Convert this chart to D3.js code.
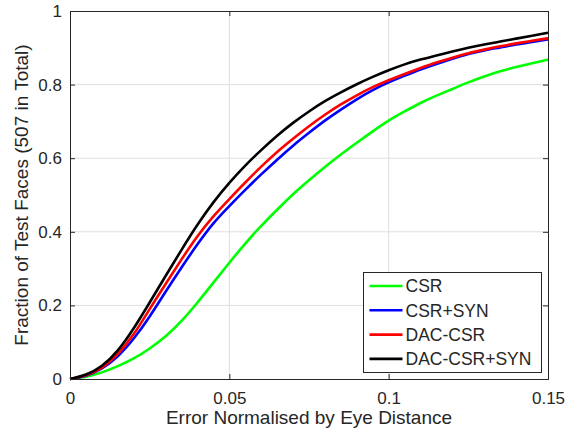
<!DOCTYPE html>
<html>
<head>
<meta charset="utf-8">
<script src="https://cdn.jsdelivr.net/npm/d3@7"></script>
<style>
    body { margin: 0; background: #fff; }
    text { font-family: "Liberation Sans", Arial, Helvetica, sans-serif; fill: #262626; }
</style>
</head>
<body>
<div id="chart"></div>
<script>
// Error thresholds (x axis), one sample every 0.005
const errors = d3.range(31).map(i => +(i * 0.005).toFixed(3));

// Cumulative fraction of faces for each method
const csr = [0, 0.006, 0.018, 0.035, 0.056, 0.083, 0.116, 0.158, 0.208, 0.262,
    0.316, 0.368, 0.416, 0.46, 0.502, 0.54, 0.576, 0.61, 0.642, 0.673,
    0.702, 0.727, 0.75, 0.77, 0.788, 0.806, 0.822, 0.836, 0.848, 0.858, 0.868];
const csrSyn = [0, 0.009, 0.029, 0.062, 0.11, 0.17, 0.237, 0.303, 0.366, 0.423,
    0.47, 0.514, 0.556, 0.596, 0.634, 0.669, 0.702, 0.732, 0.76, 0.785,
    0.806, 0.824, 0.841, 0.856, 0.87, 0.883, 0.893, 0.901, 0.909, 0.916, 0.923];
const dacCsr = [0, 0.01, 0.031, 0.068, 0.122, 0.19, 0.258, 0.325, 0.388, 0.442,
    0.489, 0.534, 0.577, 0.617, 0.653, 0.687, 0.718, 0.746, 0.771, 0.793,
    0.812, 0.829, 0.845, 0.86, 0.873, 0.885, 0.895, 0.904, 0.912, 0.919, 0.926];
const dacCsrSyn = [0, 0.012, 0.036, 0.078, 0.138, 0.208, 0.28, 0.351, 0.419, 0.48,
    0.533, 0.58, 0.622, 0.661, 0.696, 0.727, 0.755, 0.779, 0.801, 0.821,
    0.839, 0.855, 0.868, 0.879, 0.89, 0.9, 0.909, 0.917, 0.925, 0.933, 0.941];

const seriesNames = ["CSR", "CSR+SYN", "DAC-CSR", "DAC-CSR+SYN"];
const seriesColors = ["#00ff00", "#0000ff", "#ff0000", "#000000"];
const seriesValues = [csr, csrSyn, dacCsr, dacCsrSyn];

const xTicks = [0, 0.05, 0.1, 0.15];
const yTicks = [0, 0.2, 0.4, 0.6, 0.8, 1];
const xTickLabels = ["0", "0.05", "0.1", "0.15"];
const yTickLabels = ["0", "0.2", "0.4", "0.6", "0.8", "1"];

const width = 568, height = 433;
const margin = { left: 70, right: 20, top: 11, bottom: 54 };
const innerW = width - margin.left - margin.right;
const innerH = height - margin.top - margin.bottom;
const axisColor = "#262626";

const svg = d3.select("#chart")
    .append("svg")
    .attr("width", width)
    .attr("height", height);

const g = svg.append("g")
    .attr("transform", `translate(${margin.left},${margin.top})`);

const x = d3.scaleLinear().domain([0, 0.15]).range([0, innerW]);
const y = d3.scaleLinear().domain([0, 1]).range([innerH, 0]);

// Grid lines (skip the ones lying on the box)
g.append("g")
    .selectAll("line")
    .data(xTicks.filter(t => t > 0 && t < 0.15))
    .join("line")
    .attr("x1", d => x(d)).attr("x2", d => x(d))
    .attr("y1", 0).attr("y2", innerH)
    .attr("stroke", "#dfdfdf");
g.append("g")
    .selectAll("line")
    .data(yTicks.filter(t => t > 0 && t < 1))
    .join("line")
    .attr("y1", d => y(d)).attr("y2", d => y(d))
    .attr("x1", 0).attr("x2", innerW)
    .attr("stroke", "#dfdfdf");

// Curves, drawn in legend order so black ends on top
const line = d3.line()
    .x((d, i) => x(errors[i]))
    .y(d => y(d))
    .curve(d3.curveNatural);

seriesValues.forEach((vals, i) => {
    g.append("path")
        .datum(vals)
        .attr("fill", "none")
        .attr("stroke", seriesColors[i])
        .attr("stroke-width", 2.6)
        .attr("stroke-linejoin", "round")
        .attr("d", line);
});

// Axes: ticks pointing inward, on all four sides
const tickLen = 5;
g.append("g")
    .attr("transform", `translate(0,${innerH})`)
    .call(d3.axisBottom(x).tickValues(xTicks).tickSize(-tickLen).tickPadding(tickLen + 8)
        .tickFormat((d, i) => xTickLabels[i]));
g.append("g")
    .call(d3.axisLeft(y).tickValues(yTicks).tickSize(-tickLen).tickPadding(tickLen + 3)
        .tickFormat((d, i) => yTickLabels[i]));
g.append("g")
    .call(d3.axisTop(x).tickValues(xTicks).tickSize(-tickLen).tickFormat(""));
g.append("g")
    .attr("transform", `translate(${innerW},0)`)
    .call(d3.axisRight(y).tickValues(yTicks).tickSize(-tickLen).tickFormat(""));

g.selectAll(".domain, .tick line").attr("stroke", axisColor);
g.selectAll(".tick text")
    .attr("fill", axisColor)
    .style("font-size", "17px")
    .style("font-family", "Liberation Sans, Arial, sans-serif");

// Axis titles
svg.append("text")
    .attr("x", margin.left + innerW / 2)
    .attr("y", 424)
    .attr("text-anchor", "middle")
    .style("font-size", "19px")
    .text("Error Normalised by Eye Distance");

svg.append("text")
    .attr("transform", `translate(27.5,${margin.top + innerH / 2}) rotate(-90)`)
    .attr("text-anchor", "middle")
    .style("font-size", "19px")
    .text("Fraction of Test Faces (507 in Total)");

// Legend
const legend = svg.append("g").attr("transform", "translate(363.5,272.5)");
legend.append("rect")
    .attr("width", 178)
    .attr("height", 100)
    .attr("fill", "#fff")
    .attr("stroke", axisColor);

seriesNames.forEach((name, i) => {
    const rowY = 13.5 + i * 24.3;
    legend.append("line")
        .attr("x1", 6).attr("x2", 39)
        .attr("y1", rowY).attr("y2", rowY)
        .attr("stroke", seriesColors[i])
        .attr("stroke-width", 2.6);
    legend.append("text")
        .attr("x", 42)
        .attr("y", rowY)
        .attr("dy", "0.36em")
        .style("font-size", "17.5px")
        .text(name);
});
</script>
</body>
</html>
